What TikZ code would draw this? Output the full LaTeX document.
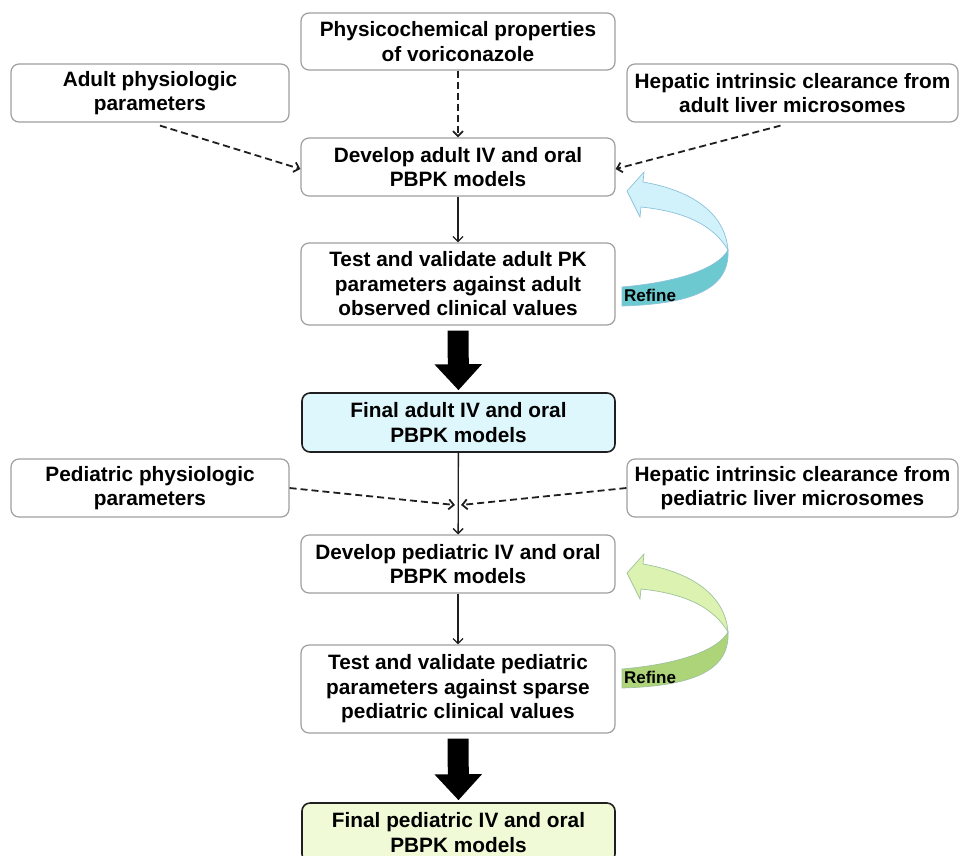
\documentclass[tikz,border=0pt]{standalone}
\usepackage{fontspec}
\setmainfont{Liberation Sans}
\usepackage{tikz}
\usetikzlibrary{arrows.meta}
\definecolor{boxgray}{rgb}{0.62,0.62,0.62}
\definecolor{linegray}{rgb}{0.12,0.12,0.12}
\definecolor{finalcyan}{rgb}{0.87,0.97,0.99}
\definecolor{finalgreen}{rgb}{0.94,0.98,0.84}
\definecolor{refinecyan}{rgb}{0.82,0.95,0.98}
\definecolor{refineteal}{rgb}{0.42,0.79,0.81}
\definecolor{cyanedge}{rgb}{0.55,0.76,0.86}
\definecolor{refinelime}{rgb}{0.86,0.95,0.69}
\definecolor{refineolive}{rgb}{0.68,0.83,0.47}
\definecolor{limeedge}{rgb}{0.62,0.76,0.62}
% ribbon arrow: shift, light fill, dark fill, edge, node name
\newcommand{\refinearrow}[5]{%
\begin{scope}[shift={(0,#1)}]
\filldraw[fill=#2,draw=#4,line width=0.7pt] (627,191) -- (644,172) -- (643,182) .. controls (690,190) and (725,212) .. (728,250) .. controls (715,228) and (690,212) .. (641,207) -- (640,217) -- cycle;
\filldraw[fill=#3,draw=#4,line width=0.7pt] (728,250) .. controls (718,268) and (680,282) .. (622,287) -- (622,306) .. controls (690,304) and (730,290) .. (728,250) -- cycle;
\node[refinetext] (#5) at (650,295) {Refine};
\end{scope}}

\begin{document}
\begin{tikzpicture}[x=1pt,y=-1pt,
  block/.style={draw=boxgray,line width=1.2pt,rounded corners=8pt,align=center,inner sep=0pt,
    font=\bfseries\fontsize{20.8}{24.5}\selectfont},
  final/.style={block,draw=linegray,line width=1.6pt},
  flow/.style={draw=linegray,line width=1.3pt,-{Straight Barb[length=5pt,width=10pt]}},
  feed/.style={flow,line width=1.8pt,dash pattern=on 7pt off 4pt},
  bigarrow/.style={line width=21pt,-{Triangle[length=26pt,width=46pt]},shorten <=5pt,shorten >=2pt},
  refinetext/.style={inner sep=0pt,font=\bfseries\fontsize{17}{20}\selectfont}]
\useasboundingbox (0,0) rectangle (960,855);
\clip (0,0) rectangle (960,855);
% adult part
\node[block,minimum width=314pt,minimum height=57pt] (phys) at (458,41.5) {Physicochemical properties\\of voriconazole};
\node[block,minimum width=278pt,minimum height=58pt] (adultphys) at (150,93) {Adult physiologic\\parameters};
\node[block,minimum width=331pt,minimum height=58pt] (hepad) at (792.5,93) {Hepatic intrinsic clearance from\\adult liver microsomes};
\node[block,minimum width=314pt,minimum height=58pt] (devad) at (458,167) {Develop adult IV and oral\\PBPK models};
\node[block,minimum width=314pt,minimum height=82pt] (testad) at (458,284) {Test and validate adult PK\\parameters against adult\\observed clinical values};
\node[final,fill=finalcyan,minimum width=313pt,minimum height=59pt] (finad) at (458.5,422.5) {Final adult IV and oral\\PBPK models};
\draw[feed] (phys) -- (devad);
\draw[feed] ([xshift=10pt,yshift=-3pt]adultphys.south) -- ([yshift=-2pt]devad.west);
\draw[feed] ([xshift=-12pt,yshift=-3pt]hepad.south) -- ([yshift=-2pt]devad.east);
\draw[flow] (devad) -- (testad);
\draw[bigarrow] (testad.south) -- (finad.north);
\refinearrow{0}{refinecyan}{refineteal}{cyanedge}{refad}
% pediatric part
\node[block,minimum width=278pt,minimum height=58pt] (pedphys) at (150,488) {Pediatric physiologic\\parameters};
\node[block,minimum width=331pt,minimum height=58pt] (heped) at (792.5,488) {Hepatic intrinsic clearance from\\pediatric liver microsomes};
\node[block,minimum width=314pt,minimum height=58pt] (devped) at (458,564) {Develop pediatric IV and oral\\PBPK models};
\node[block,minimum width=314pt,minimum height=88pt] (testped) at (458,689) {Test and validate pediatric\\parameters against sparse\\pediatric clinical values};
\node[final,fill=finalgreen,minimum width=313pt,minimum height=59pt] (finped) at (458.5,832.5) {Final pediatric IV and oral\\PBPK models};
\coordinate (join) at (458,505);
\draw[flow] (finad) -- (devped);
\draw[feed] (pedphys.east) -- ([xshift=-3pt]join);
\draw[feed] (heped.west) -- ([xshift=3pt]join);
\draw[flow] (devped) -- (testped);
\draw[bigarrow] (testped.south) -- (finped.north);
\refinearrow{382}{refinelime}{refineolive}{limeedge}{refped}
\end{tikzpicture}
\end{document}
